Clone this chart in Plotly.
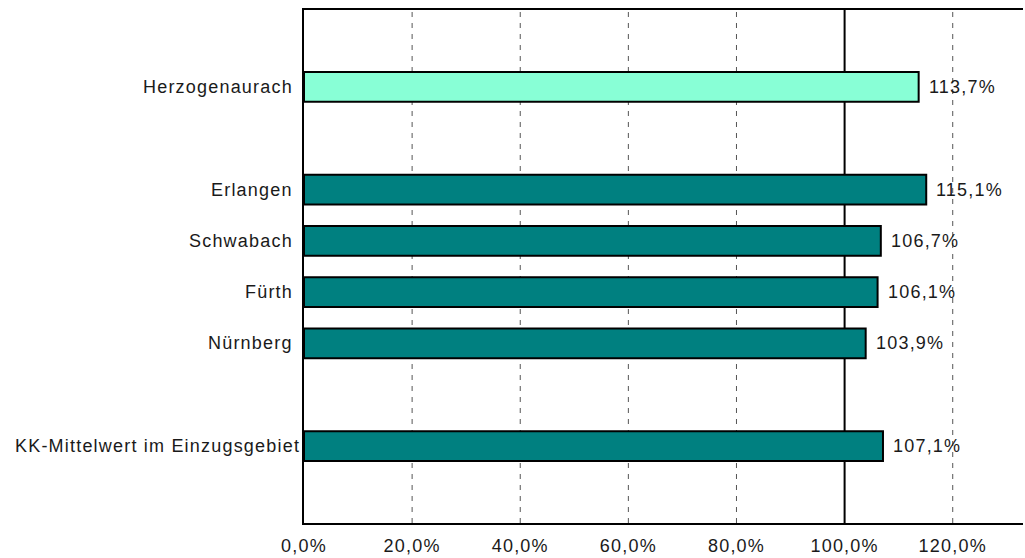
import plotly.graph_objects as go

# ---- data ----
categories = ["", "Herzogenaurach", " ", "Erlangen", "Schwabach", "Fürth",
              "Nürnberg", "  ", "KK-Mittelwert im Einzugsgebiet", "   "]
values = [None, 113.7, None, 115.1, 106.7, 106.1, 103.9, None, 107.1, None]
groups = [None, "focus", None, "city", "city", "city", "city", None, "city", None]
x_ticks = [0, 20, 40, 60, 80, 100, 120]
reference_value = 100

# ---- style ----
COLORS = {"focus": "#88FFD6", "city": "#008080", None: "#008080"}
FONT = "Liberation Sans, Arial, sans-serif"
FS = 18
LS = "letter-spacing:1.2px"
TXT = "#1a1a1a"


def spaced(s):
    return f'<span style="{LS}">{s}</span>'


def pct(v):
    return f"{v:.1f}".replace(".", ",") + "%"


fig = go.Figure()
fig.add_trace(go.Bar(
    y=categories, x=values, orientation="h",
    marker=dict(color=[COLORS[g] for g in groups],
                line=dict(color="black", width=2)),
    hoverinfo="skip",
))

annotations = []
for c, v in zip(categories, values):
    if v is None:
        continue
    # category label
    annotations.append(dict(
        x=0, xref="paper", y=c, yref="y", text=spaced(c),
        xanchor="right", yanchor="middle", showarrow=False,
        xshift=-2 if len(c) > 20 else -9,
        font=dict(family=FONT, size=FS, color=TXT)))
    # value label
    annotations.append(dict(
        x=v, xref="x", y=c, yref="y", text=spaced(pct(v)),
        xanchor="left", yanchor="middle", showarrow=False, xshift=8,
        font=dict(family=FONT, size=FS, color=TXT)))

# dashed grid lines (all ticks except the reference line)
for t in x_ticks:
    if t == reference_value or t == 0:
        continue
    fig.add_shape(type="line", xref="x", yref="paper", x0=t, x1=t, y0=0, y1=1,
                  line=dict(color="#555555", width=1, dash="5px,6px"),
                  layer="below")

fig.add_shape(type="line", xref="x", yref="paper", x0=reference_value,
              x1=reference_value, y0=0, y1=1,
              line=dict(color="black", width=2), layer="below")

fig.update_layout(
    width=1025, height=558,
    margin=dict(l=304, r=2, t=10, b=35),
    paper_bgcolor="white", plot_bgcolor="white",
    showlegend=False, bargap=0.42,
    font=dict(family=FONT, size=FS, color=TXT),
    annotations=annotations,
)
fig.update_xaxes(
    range=[0, 133], tickvals=x_ticks,
    ticktext=[spaced(pct(t)) for t in x_ticks],
    showgrid=False,
    showline=True, linecolor="black", linewidth=2, mirror=True,
    zeroline=False, ticks="", ticklabelstandoff=5,
    tickfont=dict(family=FONT, size=FS, color=TXT),
)
fig.update_yaxes(
    type="category", categoryorder="array", categoryarray=categories,
    autorange="reversed", showticklabels=False, showgrid=False,
    showline=True, linecolor="black", linewidth=2, mirror=False,
    zeroline=False, ticks="",
)

fig.write_html("out.html")
